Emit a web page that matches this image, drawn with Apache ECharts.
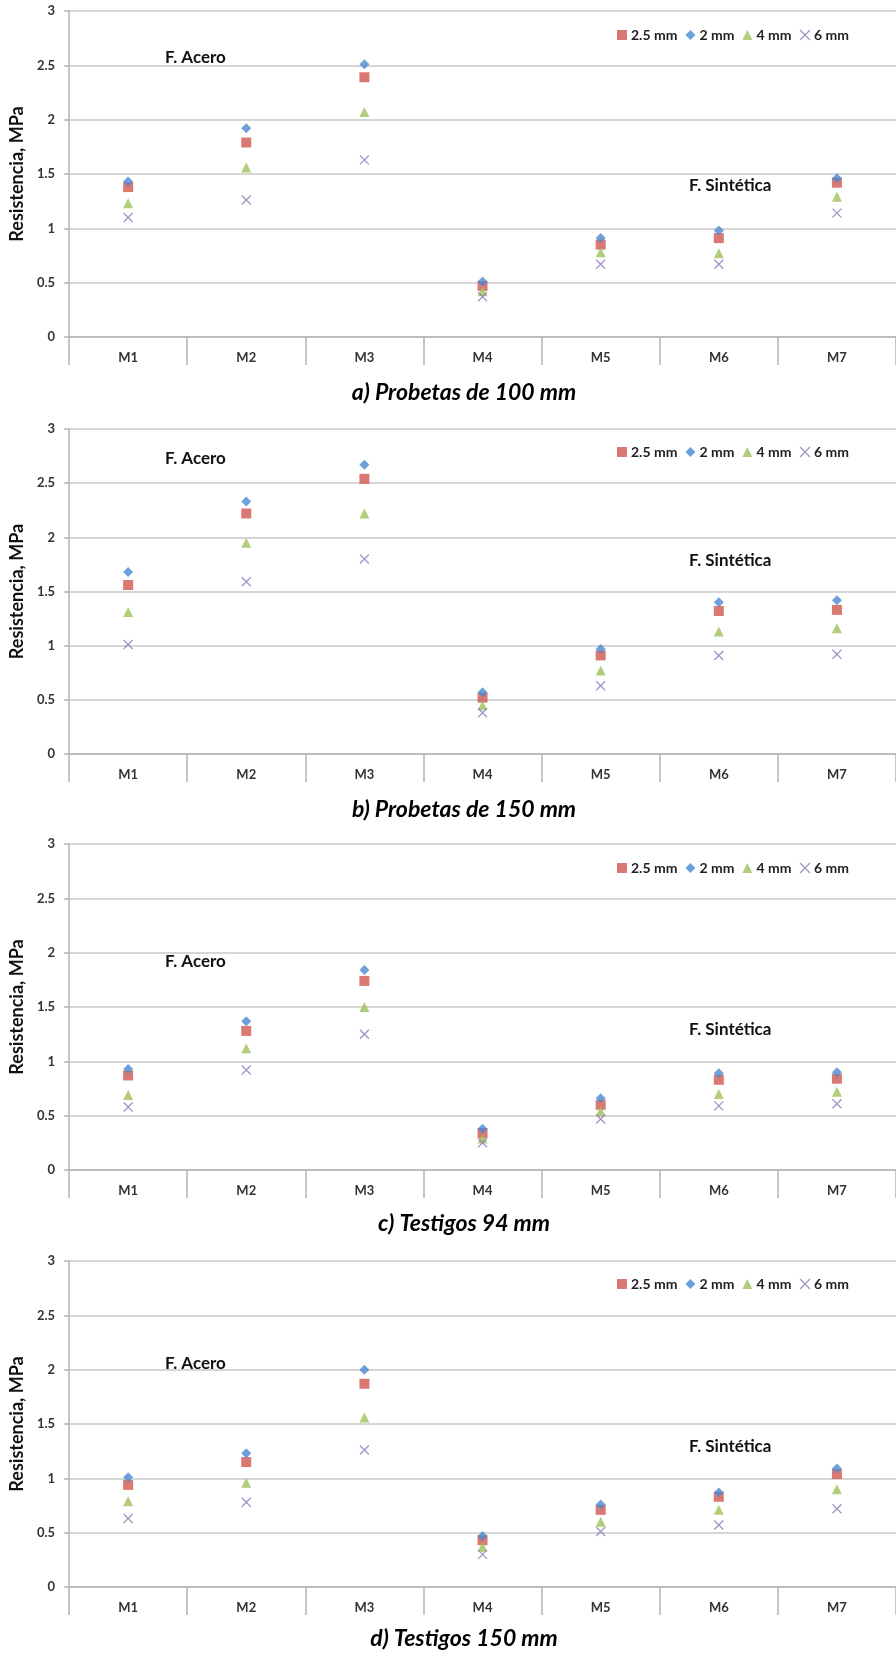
<!DOCTYPE html>
<html>
<head>
<meta charset="utf-8">
<script src="https://cdn.jsdelivr.net/npm/echarts@6/dist/echarts.min.js"></script>
<style>
html,body{margin:0;padding:0;background:#fff;}
#chart{width:896px;height:1656px;}
</style>
</head>
<body>
<div id="chart"></div>
<script>
var categories = ['M1', 'M2', 'M3', 'M4', 'M5', 'M6', 'M7'];
var seriesNames = ['2.5 mm', '2 mm', '4 mm', '6 mm'];
var captions = ['a) Probetas de 100 mm', 'b) Probetas de 150 mm', 'c) Testigos 94 mm', 'd) Testigos 150 mm'];

// a) Probetas de 100 mm
var a25 = [1.38, 1.79, 2.39, 0.47, 0.85, 0.91, 1.42];
var a2  = [1.43, 1.92, 2.51, 0.51, 0.91, 0.98, 1.46];
var a4  = [1.23, 1.56, 2.07, 0.42, 0.78, 0.77, 1.29];
var a6  = [1.10, 1.26, 1.63, 0.37, 0.67, 0.67, 1.14];

// b) Probetas de 150 mm
var b25 = [1.56, 2.22, 2.54, 0.52, 0.91, 1.32, 1.33];
var b2  = [1.68, 2.33, 2.67, 0.57, 0.97, 1.40, 1.42];
var b4  = [1.31, 1.95, 2.22, 0.45, 0.77, 1.13, 1.16];
var b6  = [1.01, 1.59, 1.80, 0.38, 0.63, 0.91, 0.92];

// c) Testigos 94 mm
var c25 = [0.87, 1.28, 1.74, 0.34, 0.60, 0.83, 0.84];
var c2  = [0.93, 1.37, 1.84, 0.38, 0.66, 0.89, 0.90];
var c4  = [0.69, 1.12, 1.50, 0.29, 0.54, 0.70, 0.72];
var c6  = [0.58, 0.92, 1.25, 0.25, 0.47, 0.59, 0.61];

// d) Testigos 150 mm
var d25 = [0.94, 1.15, 1.87, 0.43, 0.71, 0.83, 1.04];
var d2  = [1.01, 1.23, 2.00, 0.47, 0.76, 0.87, 1.09];
var d4  = [0.79, 0.96, 1.56, 0.37, 0.60, 0.71, 0.90];
var d6  = [0.63, 0.78, 1.26, 0.30, 0.51, 0.57, 0.72];

// colores y simbolos de cada serie (orden de la leyenda)
var colors = ['#d0584f', '#4a8ad0', '#9cc25a', '#8f76bb'];
var symbols = ['rect', 'diamond', 'triangle', 'path://M0,0L10,10M10,0L0,10'];
var sizes = [10, 10, 10, 9];

// posicion de cada panel
var panels = [
    {data: [a25, a2, a4, a6], top: 11, height: 326, legendY: 35, aceroY: 58, sintY: 186, captionY: 393},
    {data: [b25, b2, b4, b6], top: 429, height: 325, legendY: 452, aceroY: 459, sintY: 561, captionY: 810},
    {data: [c25, c2, c4, c6], top: 844, height: 326, legendY: 868, aceroY: 962, sintY: 1030, captionY: 1224},
    {data: [d25, d2, d4, d6], top: 1261, height: 326, legendY: 1284, aceroY: 1364, sintY: 1447, captionY: 1639}
];

var font = 'Lato';

function markerStyle(k) {
    if (k === 3) {
        return {color: 'rgba(0,0,0,0)', borderColor: colors[k], borderWidth: 1.3};
    }
    return {color: colors[k]};
}

var grids = [], xAxes = [], yAxes = [], series = [], legends = [], graphics = [];

panels.forEach(function (p, i) {
    grids.push({left: 67, right: -9, top: p.top, height: p.height, containLabel: false});

    xAxes.push({
        type: 'category',
        gridIndex: i,
        data: categories,
        boundaryGap: true,
        axisLine: {lineStyle: {color: '#b4b4b4', width: 1.5}},
        axisTick: {show: true, length: 28, lineStyle: {color: '#b4b4b4', width: 1.5}},
        axisLabel: {margin: 14, color: '#333', fontFamily: font, fontWeight: 'bold', fontSize: 13},
        splitLine: {show: false}
    });

    yAxes.push({
        type: 'value',
        gridIndex: i,
        min: 0,
        max: 3,
        interval: 0.5,
        name: 'Resistencia, MPa',
        nameLocation: 'middle',
        nameGap: 38,
        nameTextStyle: {color: '#111', fontFamily: font, fontWeight: 'bold', fontSize: 18},
        axisLine: {show: true, lineStyle: {color: '#b4b4b4', width: 1.5}},
        axisTick: {show: true, length: 5, lineStyle: {color: '#b4b4b4', width: 1.5}},
        axisLabel: {margin: 14, color: '#333', fontFamily: font, fontWeight: 'bold', fontSize: 13},
        splitLine: {show: true, lineStyle: {color: '#c8c8c8', width: 1.5}}
    });

    for (var k = 0; k < 4; k++) {
        series.push({
            type: 'scatter',
            name: seriesNames[k],
            xAxisIndex: i,
            yAxisIndex: i,
            symbol: symbols[k],
            symbolSize: sizes[k],
            itemStyle: markerStyle(k),
            emphasis: {disabled: true},
            data: p.data[k]
        });
    }

    legends.push({
        left: 612,
        top: p.legendY - 12,
        itemWidth: 10,
        itemHeight: 10,
        itemGap: 8,
        selectedMode: false,
        textStyle: {color: '#222', fontFamily: font, fontWeight: 'bold', fontSize: 14, padding: [0, 0, 0, -1]},
        data: seriesNames.map(function (n, k) {
            return {name: n, icon: symbols[k], itemStyle: markerStyle(k)};
        })
    });

    graphics.push({
        type: 'text', x: 165, y: p.aceroY,
        style: {text: 'F. Acero', fill: '#111', font: 'bold 17px Lato', verticalAlign: 'middle', align: 'left'}
    });
    graphics.push({
        type: 'text', x: 689, y: p.sintY,
        style: {text: 'F. Sintética', fill: '#111', font: 'bold 17px Lato', verticalAlign: 'middle', align: 'left'}
    });
    graphics.push({
        type: 'text', x: 464, y: p.captionY,
        style: {text: captions[i], fill: '#000', font: 'italic bold 23px Lato', verticalAlign: 'middle', align: 'center'}
    });
});

var myChart = echarts.init(document.getElementById('chart'));
myChart.setOption({
    animation: false,
    backgroundColor: '#fff',
    grid: grids,
    xAxis: xAxes,
    yAxis: yAxes,
    legend: legends,
    series: series,
    graphic: graphics
});
</script>
</body>
</html>
